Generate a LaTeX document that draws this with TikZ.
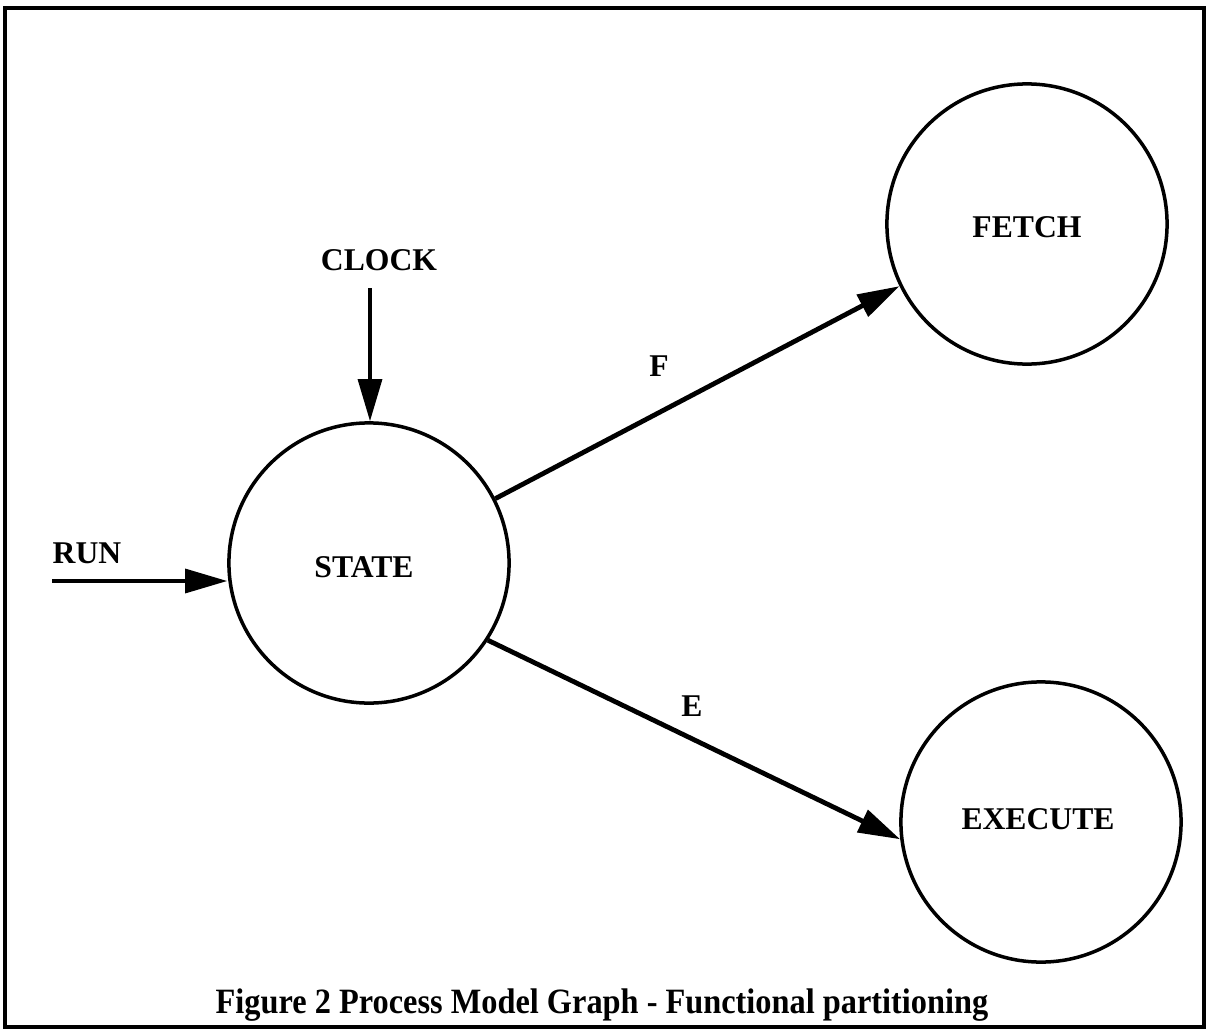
\documentclass[tikz,border=0pt]{standalone}
\usepackage{fontspec}
\setmainfont{Liberation Serif}
\usetikzlibrary{arrows.meta}
\begin{document}
\begin{tikzpicture}[x=0.01cm,y=-0.01cm,
  proc/.style={circle,draw,line width=0.035cm,minimum size=2.8cm,inner sep=0pt},
  lbl/.style={inner sep=0pt,font=\fontsize{9}{11}\selectfont\bfseries},
  flow/.style={line width=0.032cm,-{Triangle[length=4.2mm,width=2.4mm]}},
  bigflow/.style={flow,line width=0.048cm}]
  % page frame
  \useasboundingbox (0,0) rectangle (1208,1030);
  \draw[line width=0.035cm] (5,8) rectangle (1204,1027);

  % processes
  \node[proc] (state)   at (369,563)  {};
  \node[proc] (fetch)   at (1027,224) {};
  \node[proc] (execute) at (1041,822) {};
  \node[lbl] (statetxt) at (364,567)  {STATE};
  \node[lbl] (fetchtxt) at (1027,227) {FETCH};
  \node[lbl] (exectxt)  at (1038,819) {EXECUTE};

  % inputs
  \node[lbl] (clock) at (379,260) {CLOCK};
  \node[lbl] (run)   at (87,553)  {RUN};
  \coordinate (clkin) at (370,288);
  \coordinate (runin) at (52,581);

  \draw[flow] (clkin) -- (clkin |- state.north);
  \draw[flow] (runin) -- (runin -| state.west);

  % outputs
  \draw[bigflow] (state.27)  -- (fetch.206);
  \draw[bigflow] (state.-33) -- (execute.187);
  \node[lbl] (f) at (659,366) {F};
  \node[lbl] (e) at (692,706) {E};

  % caption
  \node[lbl,font=\fontsize{9.2}{12}\selectfont\bfseries,yscale=1.1] (cap) at (602,1005)
    {Figure 2 Process Model Graph - Functional partitioning};
\end{tikzpicture}
\end{document}
